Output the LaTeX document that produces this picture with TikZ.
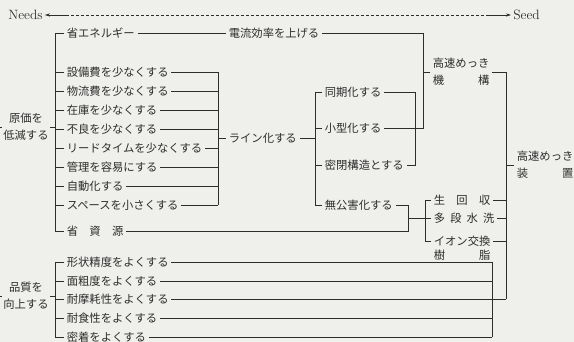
\documentclass[tikz,border=0pt]{standalone}
\usepackage{fontspec}
\newfontfamily\jp{Noto Sans CJK JP}
\usetikzlibrary{arrows.meta,positioning,calc}
\definecolor{paper}{RGB}{239,239,236}
\definecolor{ink}{RGB}{45,45,45}

\begin{document}
\begin{tikzpicture}[x=1pt, y=-1pt, line width=0.75pt, color=ink,
    item/.style={anchor=west, inner sep=2.5pt, font=\jp\fontsize{11.3}{13}\selectfont},
    two/.style={item, align=left, font=\jp\fontsize{11.3}{17}\selectfont},
    root/.style={align=center, inner sep=1.5pt, font=\jp\fontsize{11.3}{17}\selectfont},
    lat/.style={anchor=west, inner sep=2pt, font=\fontsize{13.5}{15}\selectfont},
    tip/.style={-{Stealth[length=5pt, width=3.2pt]}, line width=0.6pt}]
    \fill[paper] (0,0) rectangle (574,342);
    \useasboundingbox (0,0) rectangle (574,342);

    \node[lat] (needs) at (6,15) {Needs}; \node[lat] (seed) at (511,15) {Seed};
    \coordinate (dl) at (66,15); \coordinate (dr) at (486,15);
    \draw[tip] (dl) -- (needs.east); \draw[tip] (dr) -- (seed.west);
    \draw[line width=0.6pt, dash pattern=on 2.5pt off 2.5pt] (dl) -- (dr);

    \coordinate (edge) at (0,0); \coordinate (L) at (55,0); \coordinate (A) at (218,0);
    \coordinate (B) at (315,0); \coordinate (D) at (408,0); \coordinate (C) at (415,0);
    \coordinate (K) at (423,0); \coordinate (E) at (425,0); \coordinate (Q) at (492,0); \coordinate (R) at (506,0);

    \node[root] (cost) at (26,127) {原価を\\低減する};
    \node[root] (qual) at (26,296) {品質を\\向上する};
    \draw (cost.west) -- (cost.west -| edge); \draw (qual.west) -- (qual.west -| edge);
    \draw (cost.east) -- (cost.east -| L); \draw (qual.east) -- (qual.east -| L);

    \node[item] (e1) at (64,33) {省エネルギー};
    \foreach \i/\y/\t in {1/72/設備費を少なくする, 2/91/物流費を少なくする, 3/110/在庫を少なくする,
        4/129/不良を少なくする, 5/148/リードタイムを少なくする, 6/167/管理を容易にする,
        7/186/自動化する, 8/205/スペースを小さくする} {
        \node[item] (a\i) at (64,\y) {\t};
        \draw (a\i.west) -- (a\i.west -| L); \draw (a\i.east) -- (a\i.east -| A);
    }
    \node[item] (s1) at (64,231) {省　資　源};
    \draw (e1.west) -- (e1.west -| L) -- (s1.west -| L) -- (s1.west);
    \draw (a1.east -| A) -- (a8.east -| A);

    \node[item] (cur) at (226,33) {電流効率を上げる};
    \node[item] (line) at (226,138.5) {ライン化する};
    \draw (e1.east) -- (cur.west); \draw (line.west) -- (line.west -| A);
    \draw (line.east) -- (line.east -| B);

    \foreach \i/\y/\t in {1/92/同期化する, 2/128/小型化する, 3/165/密閉構造とする, 4/205/無公害化する} {
        \node[item] (b\i) at (322,\y) {\t};
        \draw (b\i.west) -- (b\i.west -| B);
    }
    \draw (b1.west -| B) -- (b4.west -| B);
    \draw (b1.east) -- (b1.east -| C) -- (b3.east -| C) -- (b3.east);
    \draw (cur.east) -- (cur.east -| K) -- (b2.east -| K) -- (b2.east);

    \node[two] (mech) at (430,72) {高速めっき\\機　　　構};
    \draw (mech.west) -- (mech.west -| K);

    \node[item] (w1) at (431,200) {生　回　収};
    \node[item] (w2) at (431,218) {多\hspace{.45em}段\hspace{.45em}水\hspace{.45em}洗};
    \node[item] (w3) at (431,241) {イオン交換};
    \node[item, below=-1.5pt of w3.south west, anchor=north west] (w3b) {樹　　　脂};
    \draw (b4.east) -- (b4.east -| D) -- (s1.east -| D) -- (s1.east);
    \draw (w2.west -| D) -- (w2.west);
    \draw (w1.west) -- (w1.west -| E) -- (w3.west -| E) -- (w3.west);
    \foreach \n in {w1,w2,w3} \draw (\n.east) -- (\n.east -| R);

    \foreach \i/\y/\t in {1/262/形状精度をよくする, 2/281/面粗度をよくする, 3/299/耐摩耗性をよくする,
        4/318/耐食性をよくする, 5/337/密着をよくする} {
        \node[item] (q\i) at (64,\y) {\t};
        \draw (q\i.west) -- (q\i.west -| L); \draw (q\i.east) -- (q\i.east -| Q);
    }
    \draw (q1.west -| L) -- (q5.west -| L); \draw (q1.east -| Q) -- (q5.east -| Q);
    \draw (q3.east -| Q) -- (q3.east -| R);

    \node[two] (dev) at (514,165) {高速めっき\\装　　　置};
    \draw (mech.east) -- (mech.east -| R) -- (q3.east -| R);
    \draw (dev.west) -- (dev.west -| R);
\end{tikzpicture}
\end{document}
